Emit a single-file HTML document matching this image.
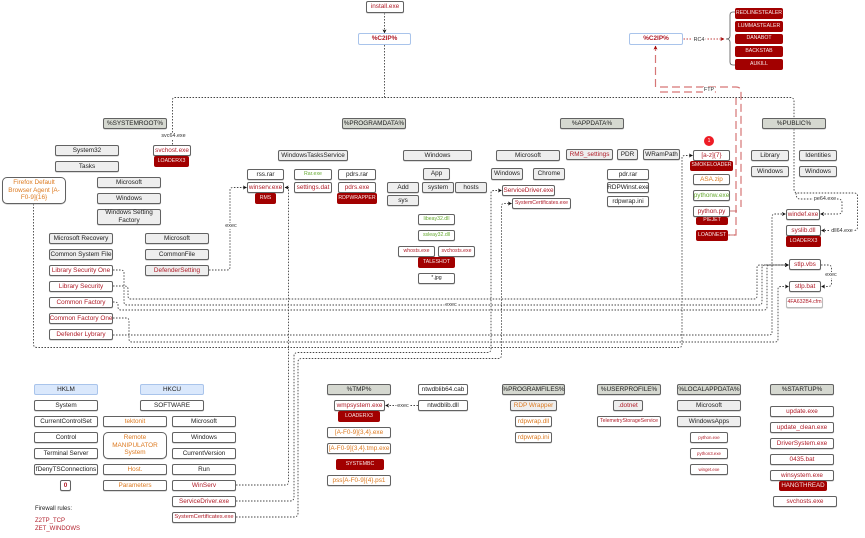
<!DOCTYPE html>
<html><head><meta charset="utf-8"><style>
html,body{margin:0;padding:0;background:#fff}
#p{position:relative;width:865px;height:538px;overflow:hidden;background:#fff;font-family:"Liberation Sans",sans-serif;filter:blur(.2px)}
svg{position:absolute;left:0;top:0}
.n{position:absolute;box-sizing:border-box;border:1px solid #626262;border-radius:2px;background:#fff;color:#222;font-size:6.4px;line-height:7.6px;display:flex;align-items:center;justify-content:center;text-align:center;white-space:nowrap;box-shadow:0 .5px .5px #bbb}
.g{background:#eeeeee}.h{background:#d5d8d0}.b{background:#dae8fc;border-color:#a9c4eb;box-shadow:none}
.c{border-color:#a9c4eb;color:#b01c28;font-weight:bold;box-shadow:none}
.r{color:#b01c28}.o{color:#dd7a20}.v{color:#66aa30}
.R{background:#a20000;border:0;color:#f6e6e6;font-size:5.2px;box-shadow:none}
.s{font-size:5.2px}.x{font-size:4.4px}
.l{position:absolute;background:#fff;color:#333;font-size:5.4px;line-height:6px;white-space:nowrap;transform:translate(-50%,-50%);padding:0 1px}
.t{position:absolute;font-size:6px;line-height:8px;white-space:nowrap}
</style></head><body><div id="p">
<svg width="865" height="538" viewBox="0 0 865 538" fill="none">
<defs>
<marker id="a" markerWidth="4" markerHeight="4" refX="3.6" refY="2" orient="auto" markerUnits="userSpaceOnUse"><path d="M0 0L4 2L0 4L1 2Z" fill="#111"/></marker>
<marker id="m" markerWidth="4" markerHeight="4" refX="3.6" refY="2" orient="auto" markerUnits="userSpaceOnUse"><path d="M0 0L4 2L0 4L1 2Z" fill="#a20000"/></marker>
</defs>
<g stroke="#d67676" stroke-width="1.2" stroke-dasharray="8 4">
<path d="M655.5 87V46" marker-end="url(#m)"/>
<path d="M660 87H736Q741 87 741 92V207"/>
<path d="M660 92H720"/>
<path d="M736 97V235H728"/>
</g>
<path d="M730 211H737" stroke="#c25050" stroke-width=".8"/>
<path d="M735 235H729" stroke="#c25050" stroke-width=".8"/>
<path d="M683.500 39H724" stroke="#c04040" stroke-width="1" stroke-dasharray="1.500 1.500" marker-end="url(#m)"/>
<path d="M735 12H733Q730 12 730 15V36Q730 39 726 39Q730 39 730 42V62Q730 65 733 65H735" stroke="#555" stroke-width=".8"/>
<g stroke="#444" stroke-width=".9" stroke-dasharray="1.500 1.500">
<path d="M384.500 13V33" marker-end="url(#a)"/>
<path d="M384.500 45V97.500"/>
<path d="M172.500 144.500V100Q172.500 97.500 175 97.500H790Q794 97.500 794 101V118"/>
<path d="M794 129V189Q794 193 798 193H854Q857.500 193 857.500 196V227Q857.500 230.500 854 230.500H821.500" marker-end="url(#a)"/>
<path d="M796 193Q796 199 800 199H838Q842 199 842 203V211Q842 214 838 214H820.500" marker-end="url(#a)"/>
<path d="M209 270H227Q230 270 230 267V190Q230 187.500 233 187.500H246.500" marker-end="url(#a)"/>
<path d="M236 485H285Q288.500 485 288.500 482V187.500H285" marker-end="url(#a)"/>
<path d="M236 501H290Q294 501 294 497V356Q294 352.500 298 352.500H487Q491 352.500 491 349V193Q491 190.500 494 190.500H501.500" marker-end="url(#a)"/>
<path d="M236 517H294Q298 517 298 513V362Q298 358.500 302 358.500H498Q501.500 358.500 501.500 355V206Q501.500 203.500 504 203.500H511.500" marker-end="url(#a)"/>
<path d="M113 270H121Q124 270 124 273V302Q124 305 127 305H759Q762 305 762 302V268Q762 265 765 265H788.500" marker-end="url(#a)"/>
<path d="M113 286H124Q128 286 128 289V296Q128 299 131 299H754Q757 299 757 296V268Q757 265 760 265H788.500" marker-end="url(#a)"/>
<path d="M113 302H115Q118 302 118 305V307Q118 310 121 310H764Q767 310 767 307V268Q767 265 770 265H788.500" marker-end="url(#a)"/>
<path d="M113 335H769Q772 335 772 332V217Q772 214 775 214H785.500" marker-end="url(#a)"/>
<path d="M113 318H126Q129 318 129 321V339Q129 342 132 342H775Q778 342 778 339V289Q778 286.500 781 286.500H788.500" marker-end="url(#a)"/>
<path d="M33.500 204V344Q33.500 347.500 37 347.500H679Q682 347.500 682 344V158Q682 155.500 685 155.500H692.500" marker-end="url(#a)"/>
<path d="M821 265H828Q831.500 265 831.500 268V283Q831.500 286.500 828 286.500H821.500" marker-end="url(#a)"/>
<path d="M418 405.500H385.500" marker-end="url(#a)"/>
</g>
</svg>

<div class="n r" style="left:366px;top:1px;width:38px;height:12px">install.exe</div>
<div class="n c" style="left:358px;top:33px;width:53px;height:12px">%C2IP%</div>
<div class="n c" style="left:629px;top:33px;width:54px;height:12px">%C2IP%</div>
<div class="n R" style="left:735px;top:8px;width:48px;height:11px">REDLINESTEALER</div>
<div class="n R" style="left:735px;top:21px;width:48px;height:11px">LUMMASTEALER</div>
<div class="n R" style="left:735px;top:34px;width:48px;height:10px">DANABOT</div>
<div class="n R" style="left:735px;top:46px;width:48px;height:11px">BACKSTAB</div>
<div class="n R" style="left:735px;top:59px;width:48px;height:11px">AUKILL</div>

<div class="n h" style="left:103px;top:118px;width:64px;height:11px">%SYSTEMROOT%</div>
<div class="n h" style="left:342px;top:118px;width:64px;height:11px">%PROGRAMDATA%</div>
<div class="n h" style="left:560px;top:118px;width:64px;height:11px">%APPDATA%</div>
<div class="n h" style="left:762px;top:118px;width:64px;height:11px">%PUBLIC%</div>

<div class="n g" style="left:55px;top:145px;width:64px;height:11px">System32</div>
<div class="n g" style="left:55px;top:161px;width:64px;height:11px">Tasks</div>
<div class="n r" style="left:153px;top:145px;width:38px;height:11px">svchost.exe</div>
<div class="n R" style="left:154px;top:156px;width:35px;height:11px">LOADERX3</div>
<div class="n o" style="left:2px;top:177px;width:64px;height:27px;border-radius:5px">Firefox Default<br>Browser Agent [A-<br>F0-9]{16}</div>
<div class="n g" style="left:97px;top:177px;width:64px;height:11px">Microsoft</div>
<div class="n g" style="left:97px;top:193px;width:64px;height:11px">Windows</div>
<div class="n g" style="left:97px;top:209px;width:64px;height:16px">Windows Setting<br>Factory</div>
<div class="n g" style="left:49px;top:233px;width:64px;height:11px">Microsoft Recovery</div>
<div class="n g" style="left:49px;top:249px;width:64px;height:11px">Common System File</div>
<div class="n r" style="left:49px;top:265px;width:64px;height:11px">Library Security One</div>
<div class="n r" style="left:49px;top:281px;width:64px;height:11px">Library Security</div>
<div class="n r" style="left:49px;top:297px;width:64px;height:11px">Common Factory</div>
<div class="n r" style="left:49px;top:313px;width:64px;height:11px">Common Factory One</div>
<div class="n r" style="left:49px;top:329px;width:64px;height:11px">Defender Lybrary</div>
<div class="n g" style="left:145px;top:233px;width:64px;height:11px">Microsoft</div>
<div class="n g" style="left:145px;top:249px;width:64px;height:11px">CommonFile</div>
<div class="n g r" style="left:145px;top:265px;width:64px;height:11px">DefenderSetting</div>

<div class="n g" style="left:278px;top:150px;width:70px;height:11px">WindowsTasksService</div>
<div class="n" style="left:247px;top:169px;width:37px;height:11px">rss.rar</div>
<div class="n r" style="left:247px;top:182px;width:37px;height:11px">winserv.exe</div>
<div class="n R" style="left:255px;top:193px;width:21px;height:11px">RMS</div>
<div class="n v s" style="left:294px;top:169px;width:38px;height:11px">Rar.exe</div>
<div class="n r" style="left:294px;top:182px;width:38px;height:11px">settings.dat</div>
<div class="n" style="left:338px;top:169px;width:38px;height:11px">pdrs.rar</div>
<div class="n r" style="left:338px;top:182px;width:38px;height:11px">pdrs.exe</div>
<div class="n R" style="left:337px;top:193px;width:40px;height:11px">RDPWRAPPER</div>
<div class="n g" style="left:403px;top:150px;width:69px;height:11px">Windows</div>
<div class="n g" style="left:423px;top:168px;width:27px;height:12px">App</div>
<div class="n g" style="left:387px;top:182px;width:32px;height:11px">Add</div>
<div class="n g" style="left:422px;top:182px;width:32px;height:11px">system</div>
<div class="n g" style="left:455px;top:182px;width:32px;height:11px">hosts</div>
<div class="n g" style="left:387px;top:195px;width:32px;height:11px">sys</div>
<div class="n v s" style="left:418px;top:214px;width:37px;height:11px">libeay32.dll</div>
<div class="n v s" style="left:418px;top:230px;width:37px;height:11px">ssleay32.dll</div>
<div class="n r s" style="left:398px;top:246px;width:37px;height:11px">whosts.exe</div>
<div class="n r s" style="left:438px;top:246px;width:37px;height:11px">svchosts.exe</div>
<div class="n R" style="left:418px;top:257px;width:37px;height:11px">TALESHOT</div>
<div class="n s" style="left:418px;top:273px;width:37px;height:11px">*.jpg</div>

<div class="n g" style="left:496px;top:150px;width:64px;height:11px">Microsoft</div>
<div class="n g r" style="left:566px;top:149px;width:47px;height:11px">RMS_settings</div>
<div class="n g" style="left:617px;top:149px;width:21px;height:11px">PDR</div>
<div class="n g" style="left:643px;top:149px;width:37px;height:11px">WRamPath</div>
<div class="n g" style="left:491px;top:168px;width:32px;height:12px">Windows</div>
<div class="n g" style="left:533px;top:168px;width:32px;height:12px">Chrome</div>
<div class="n r" style="left:502px;top:185px;width:53px;height:11px">ServiceDriver.exe</div>
<div class="n r s" style="left:512px;top:198px;width:59px;height:11px">SystemCertificates.exe</div>
<div class="n" style="left:607px;top:169px;width:42px;height:11px">pdr.rar</div>
<div class="n" style="left:607px;top:182px;width:42px;height:11px">RDPWinst.exe</div>
<div class="n" style="left:607px;top:196px;width:42px;height:11px">rdpwrap.ini</div>

<div style="position:absolute;left:704px;top:136px;width:10px;height:10px;border-radius:50%;background:#ee1c25;color:#fff;font-size:5px;line-height:10px;text-align:center">1</div>
<div class="n r" style="left:693px;top:150px;width:37px;height:11px">[a-z]{7}</div>
<div class="n R" style="left:690px;top:161px;width:43px;height:10px">SMOKELOADER</div>
<div class="n o" style="left:693px;top:174px;width:37px;height:11px">ASA.zip</div>
<div class="n v" style="left:693px;top:190px;width:37px;height:11px">pythonw.exe</div>
<div class="n r" style="left:693px;top:206px;width:37px;height:11px">python.py</div>
<div class="n R" style="left:696px;top:217px;width:32px;height:8px">PIEJET</div>
<div class="n R" style="left:696px;top:230px;width:32px;height:11px">LOADNEST</div>

<div class="n g" style="left:751px;top:150px;width:38px;height:11px">Library</div>
<div class="n g" style="left:799px;top:150px;width:38px;height:11px">Identities</div>
<div class="n g" style="left:751px;top:166px;width:38px;height:11px">Windows</div>
<div class="n g" style="left:799px;top:166px;width:38px;height:11px">Windows</div>
<div class="n r" style="left:786px;top:209px;width:34px;height:11px">windef.exe</div>
<div class="n r" style="left:786px;top:225px;width:35px;height:11px">syslib.dll</div>
<div class="n R" style="left:786px;top:236px;width:35px;height:11px">LOADERX3</div>
<div class="n r" style="left:789px;top:259px;width:32px;height:11px">stlp.vbs</div>
<div class="n r" style="left:789px;top:281px;width:32px;height:11px">stlp.bat</div>
<div class="n r s" style="left:786px;top:297px;width:37px;height:11px;border-color:#bbb">4FA632B4.cfm</div>

<div class="n b" style="left:34px;top:384px;width:64px;height:11px">HKLM</div>
<div class="n b" style="left:140px;top:384px;width:64px;height:11px">HKCU</div>
<div class="n" style="left:34px;top:400px;width:64px;height:11px">System</div>
<div class="n" style="left:140px;top:400px;width:64px;height:11px">SOFTWARE</div>
<div class="n" style="left:34px;top:416px;width:64px;height:11px">CurrentControlSet</div>
<div class="n" style="left:34px;top:432px;width:64px;height:11px">Control</div>
<div class="n" style="left:34px;top:448px;width:64px;height:11px">Terminal Server</div>
<div class="n" style="left:34px;top:464px;width:64px;height:11px">fDenyTSConnections</div>
<div class="n r" style="left:60px;top:480px;width:11px;height:11px;font-weight:bold">0</div>
<div class="n o" style="left:103px;top:416px;width:64px;height:11px">tektonit</div>
<div class="n o" style="left:103px;top:432px;width:64px;height:27px;border-radius:5px">Remote<br>MANIPULATOR<br>System</div>
<div class="n o" style="left:103px;top:464px;width:64px;height:11px">Host.</div>
<div class="n o" style="left:103px;top:480px;width:64px;height:11px">Parameters</div>
<div class="n" style="left:172px;top:416px;width:64px;height:11px">Microsoft</div>
<div class="n" style="left:172px;top:432px;width:64px;height:11px">Windows</div>
<div class="n" style="left:172px;top:448px;width:64px;height:11px">CurrentVersion</div>
<div class="n" style="left:172px;top:464px;width:64px;height:11px">Run</div>
<div class="n r" style="left:172px;top:480px;width:64px;height:11px">WinServ</div>
<div class="n r" style="left:172px;top:496px;width:64px;height:11px">ServiceDriver.exe</div>
<div class="n r" style="left:172px;top:512px;width:64px;height:11px;font-size:5.800px">SystemCertificates.exe</div>
<div class="t" style="left:35px;top:505px;color:#222">Firewall rules:</div>
<div class="t" style="left:35px;top:517px;color:#b01c28">Z2TP_TCP</div>
<div class="t" style="left:35px;top:525px;color:#b01c28">ZET_WINDOWS</div>

<div class="n h" style="left:327px;top:384px;width:64px;height:11px">%TMP%</div>
<div class="n" style="left:418px;top:384px;width:50px;height:11px">ntwdblib64.cab</div>
<div class="n" style="left:418px;top:400px;width:50px;height:11px">ntwdblib.dll</div>
<div class="n r" style="left:334px;top:400px;width:51px;height:11px">wmpsystem.exe</div>
<div class="n R" style="left:338px;top:411px;width:42px;height:11px">LOADERX3</div>
<div class="n o" style="left:327px;top:427px;width:64px;height:11px">[A-F0-9]{3,4}.exe</div>
<div class="n o" style="left:327px;top:443px;width:64px;height:11px">[A-F0-9]{3,4}.tmp.exe</div>
<div class="n R" style="left:336px;top:459px;width:48px;height:11px">SYSTEMBC</div>
<div class="n o" style="left:327px;top:475px;width:64px;height:11px">pss[A-F0-9]{4}.ps1</div>
<div class="n h" style="left:502px;top:384px;width:63px;height:11px">%PROGRAMFILES%</div>
<div class="n g o" style="left:510px;top:400px;width:47px;height:11px">RDP Wrapper</div>
<div class="n o" style="left:515px;top:416px;width:37px;height:11px">rdpwrap.dll</div>
<div class="n o" style="left:515px;top:432px;width:37px;height:11px">rdpwrap.ini</div>
<div class="n h" style="left:597px;top:384px;width:64px;height:11px">%USERPROFILE%</div>
<div class="n g r" style="left:613px;top:400px;width:30px;height:11px">.dotnet</div>
<div class="n r s" style="left:597px;top:416px;width:64px;height:11px">TelemetryStorageService</div>
<div class="n h" style="left:677px;top:384px;width:64px;height:11px">%LOCALAPPDATA%</div>
<div class="n g" style="left:677px;top:400px;width:64px;height:11px">Microsoft</div>
<div class="n g" style="left:677px;top:416px;width:64px;height:11px">WindowsApps</div>
<div class="n r x" style="left:690px;top:432px;width:38px;height:11px">python.exe</div>
<div class="n r x" style="left:690px;top:448px;width:38px;height:11px">python3.exe</div>
<div class="n r x" style="left:690px;top:464px;width:38px;height:11px">winget.exe</div>
<div class="n h" style="left:770px;top:384px;width:64px;height:11px">%STARTUP%</div>
<div class="n r" style="left:770px;top:406px;width:64px;height:11px">update.exe</div>
<div class="n r" style="left:770px;top:422px;width:64px;height:11px">update_clean.exe</div>
<div class="n r" style="left:770px;top:438px;width:64px;height:11px">DriverSystem.exe</div>
<div class="n r" style="left:770px;top:454px;width:64px;height:11px">0435.bat</div>
<div class="n r" style="left:770px;top:470px;width:64px;height:11px">winsystem.exe</div>
<div class="n R" style="left:779px;top:481px;width:48px;height:10px;font-size:6.200px">HANGTHREAD</div>
<div class="n r" style="left:773px;top:496px;width:64px;height:11px">svchosts.exe</div>

<div class="l" style="left:173.500px;top:135.500px">svc64.exe</div>
<div class="l" style="left:231px;top:225.500px">exec</div>
<div class="l" style="left:451px;top:305px">exec</div>
<div class="l" style="left:403px;top:406px">exec</div>
<div class="l" style="left:699px;top:39.500px">RC4</div>
<div class="l" style="left:709px;top:89.500px">FTP</div>
<div class="l" style="left:825px;top:199px">pe64.exe</div>
<div class="l" style="left:842px;top:230.500px">dll64.exe</div>
<div class="l" style="left:831px;top:274.500px">exec</div>
</div></body></html>
